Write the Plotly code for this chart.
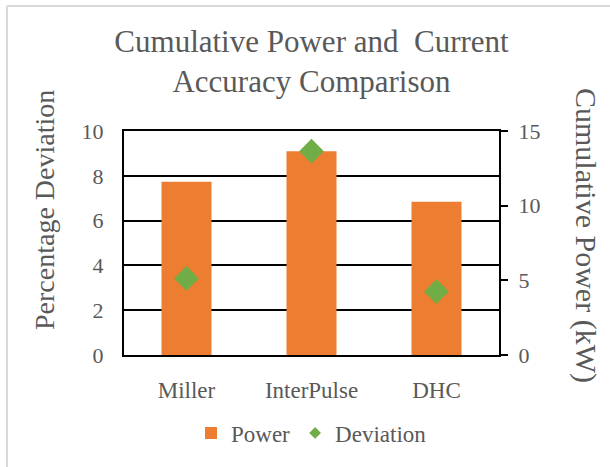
import plotly.graph_objects as go

categories = ["Miller", "InterPulse", "DHC"]
power_kw = [11.6, 13.65, 10.27]
deviation_pct = [3.42, 9.1, 2.83]
left_ticks = [0, 2, 4, 6, 8, 10]
right_ticks = [0, 5, 10, 15]

FONT = "Liberation Serif"
GRAY = "#595959"
ORANGE = "#ED7D31"
GREEN = "#70AD47"

fig = go.Figure()
# Power bars on the primary axis (drawn on the right side)
fig.add_trace(go.Bar(
    x=categories, y=power_kw, name="Power", yaxis="y",
    marker=dict(color=ORANGE, line=dict(width=0)), width=0.4,
))
# Deviation diamonds on the overlaying axis (left side) so they sit above the bars
fig.add_trace(go.Scatter(
    x=categories, y=deviation_pct, name="Deviation", mode="markers", yaxis="y2",
    marker=dict(symbol="diamond", size=19, color=GREEN), showlegend=False,
))
fig.add_trace(go.Scatter(
    x=[None], y=[None], name="Deviation", mode="markers", yaxis="y2",
    marker=dict(symbol="diamond", size=9, color=GREEN),
))

fig.update_layout(
    width=610, height=467, autosize=False,
    margin=dict(l=124, r=111, t=131, b=112),
    paper_bgcolor="white", plot_bgcolor="white",
    font=dict(family=FONT, color=GRAY, size=22),
    title=dict(
        text="Cumulative Power and  Current<br>Accuracy Comparison",
        x=0.5, xref="paper", xanchor="center",
        y=1 - 52 / 467, yref="container", yanchor="top",
        font=dict(family=FONT, size=31, color=GRAY),
    ),
    xaxis=dict(
        type="category", showgrid=False, ticks="",
        showline=True, linecolor="black", linewidth=2, mirror=True,
        tickfont=dict(size=23, color=GRAY), ticklabelstandoff=13,
    ),
    yaxis=dict(
        range=[0, 15], tickvals=right_ticks, side="right", showgrid=False,
        showline=True, linecolor="black", linewidth=2, ticks="outside", ticklen=7,
        tickwidth=2, tickcolor="black", zeroline=False,
        tickfont=dict(size=22, color=GRAY), ticklabelstandoff=6,
    ),
    yaxis2=dict(
        range=[0, 10], tickvals=left_ticks, overlaying="y", side="left",
        showgrid=True, gridcolor="black", gridwidth=2,
        showline=True, linecolor="black", linewidth=2, ticks="", zeroline=False,
        tickfont=dict(size=22, color=GRAY), ticklabelstandoff=14,
    ),
    legend=dict(
        orientation="h", x=0.5, xanchor="center", y=-(433 - 355) / 224, yanchor="middle",
        font=dict(size=23, color=GRAY), bgcolor="rgba(0,0,0,0)",
    ),
    annotations=[
        dict(text="Percentage Deviation", x=(44 - 124) / 375, y=(355 - 210) / 224,
             xref="paper", yref="paper", showarrow=False, textangle=-90,
             xanchor="center", yanchor="middle", font=dict(family=FONT, size=28, color=GRAY)),
        dict(text="Cumulative Power (kW)", x=(586 - 124) / 375, y=(355 - 235) / 224,
             xref="paper", yref="paper", showarrow=False, textangle=90,
             xanchor="center", yanchor="middle", font=dict(family=FONT, size=30, color=GRAY)),
    ],
    shapes=[
        dict(type="line", xref="paper", yref="paper", x0=(7 - 124) / 375, x1=(610 - 124) / 375,
             y0=(355 - 6) / 224, y1=(355 - 6) / 224, line=dict(color="#D9D9D9", width=2)),
        dict(type="line", xref="paper", yref="paper", x0=(7 - 124) / 375, x1=(7 - 124) / 375,
             y0=(355 - 6) / 224, y1=(355 - 467) / 224, line=dict(color="#D9D9D9", width=2)),
    ],
)

fig.write_html("out.html", config={"displayModeBar": False},
               post_script="document.body.style.margin='0';")
